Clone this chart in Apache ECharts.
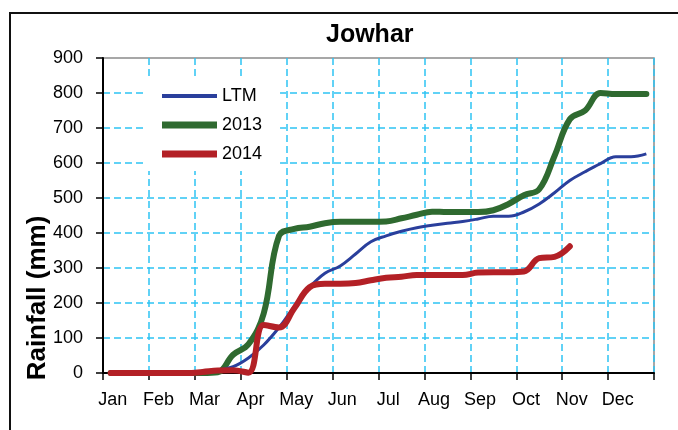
<!DOCTYPE html>
<html><head><meta charset="utf-8">
<script src="https://cdn.jsdelivr.net/npm/echarts@6/dist/echarts.min.js"></script>
<style>html,body{margin:0;padding:0;background:#fff}#c{width:678px;height:430px}</style>
</head><body><div id="c"></div>
<script>
const months = ['Jan','Feb','Mar','Apr','May','Jun','Jul','Aug','Sep','Oct','Nov','Dec'];
const dekadNames = ['D1','D2','D3'];
const seriesNames = ['LTM','2013','2014'];
const ltm   = [0,0,0,0,0,1, 3,8,18,43,80,130, 190,245,285,306,340,375, 392,405,415,422,428,433, 440,448,448,460,483,515, 550,575,598,618,618,626];
const y2013 = [0,0,0,0,0,0, 0,2,52,82,170,392, 412,418,428,432,432,432, 433,442,452,461,460,460, 460,465,483,508,525,620, 725,750,800,797,797,797];
const y2014 = [0,0,0,0,0,0, 3,7,8,1,137,130, 185,245,255,255,257,265, 272,275,280,280,280,280, 287,288,288,290,328,332, 362];
const yMin = 0, yMax = 900, yStep = 100;
const title = 'Jowhar';
const yTitle = 'Rainfall (mm)';

const categories = months.flatMap(m => dekadNames.map(d => m + '-' + d));
const FONT = '"Liberation Sans", Arial, sans-serif';
const thinBar = 'path://M0,0 H55 V4 H0 Z';
const thickBar = 'path://M0,0 H55 V7 H0 Z';
const chart = echarts.init(document.getElementById('c'), null, {renderer: 'canvas'});
chart.setOption({
  animation: false,
  backgroundColor: '#fff',
  title: {text: title, left: 326, top: 23, padding: 0,
    textStyle: {fontFamily: FONT, fontSize: 25, fontWeight: 'bold', color: '#000'}},
  graphic: [
    {type: 'rect', shape: {x: 10, y: 13, width: 800, height: 600}, style: {fill: 'none', stroke: '#111', lineWidth: 2}, z: 0},
    {type: 'text', x: 38, y: 298, rotation: Math.PI / 2, z: 10,
      style: {text: yTitle, align: 'center', verticalAlign: 'middle', fontFamily: FONT, fontSize: 26, fontWeight: 'bold', fill: '#000'}}
  ],
  legend: {
    orient: 'vertical', left: 143, top: 80,
    padding: [7, 18, 8, 19], itemWidth: 55, itemHeight: 14, itemGap: 11,
    backgroundColor: '#fff',
    data: [
      {name: seriesNames[0], icon: thinBar},
      {name: seriesNames[1], icon: thickBar},
      {name: seriesNames[2], icon: thickBar}
    ],
    textStyle: {fontFamily: FONT, fontSize: 18, color: '#000'}
  },
  grid: {left: 103, right: 24, top: 58, bottom: 57, show: true, borderColor: '#8a8a8a', borderWidth: 1.5, backgroundColor: '#fff'},
  xAxis: {
    type: 'category', data: categories, boundaryGap: true,
    axisLine: {lineStyle: {color: '#000', width: 2}},
    axisTick: {show: true, length: 7, interval: (i) => i % 3 === 0, lineStyle: {color: '#000', width: 1.5}},
    axisLabel: {interval: (i) => i % 3 === 0, formatter: (v) => v.split('-')[0], margin: 18, padding: [0, 0, 0, 4],
      fontFamily: FONT, fontSize: 18, color: '#000'},
    splitLine: {show: true, interval: (i) => i % 3 === 0, lineStyle: {color: '#2ec4f3', width: 1.5, type: [7, 4]}}
  },
  yAxis: {
    type: 'value', min: yMin, max: yMax, interval: yStep,
    axisLine: {show: true, lineStyle: {color: '#000', width: 2}},
    axisTick: {show: true, length: 7, lineStyle: {color: '#000', width: 1.5}},
    axisLabel: {margin: 20, fontFamily: FONT, fontSize: 18, color: '#000'},
    splitLine: {show: true, showMaxLine: false, lineStyle: {color: '#2ec4f3', width: 1.5, type: [7, 4]}}
  },
  series: [
    {name: seriesNames[0], type: 'line', data: ltm, symbol: 'none', smooth: 0.4,
      lineStyle: {color: '#2a3f9c', width: 3}, itemStyle: {color: '#2a3f9c'}, z: 3},
    {name: seriesNames[1], type: 'line', data: y2013, symbol: 'none', smooth: 0.4,
      lineStyle: {color: '#2f6a30', width: 6, cap: 'round'}, itemStyle: {color: '#2f6a30'}, z: 2},
    {name: seriesNames[2], type: 'line', data: y2014, symbol: 'none', smooth: 0.4,
      lineStyle: {color: '#b32026', width: 6, cap: 'round'}, itemStyle: {color: '#b32026'}, z: 4}
  ]
});
</script></body></html>
